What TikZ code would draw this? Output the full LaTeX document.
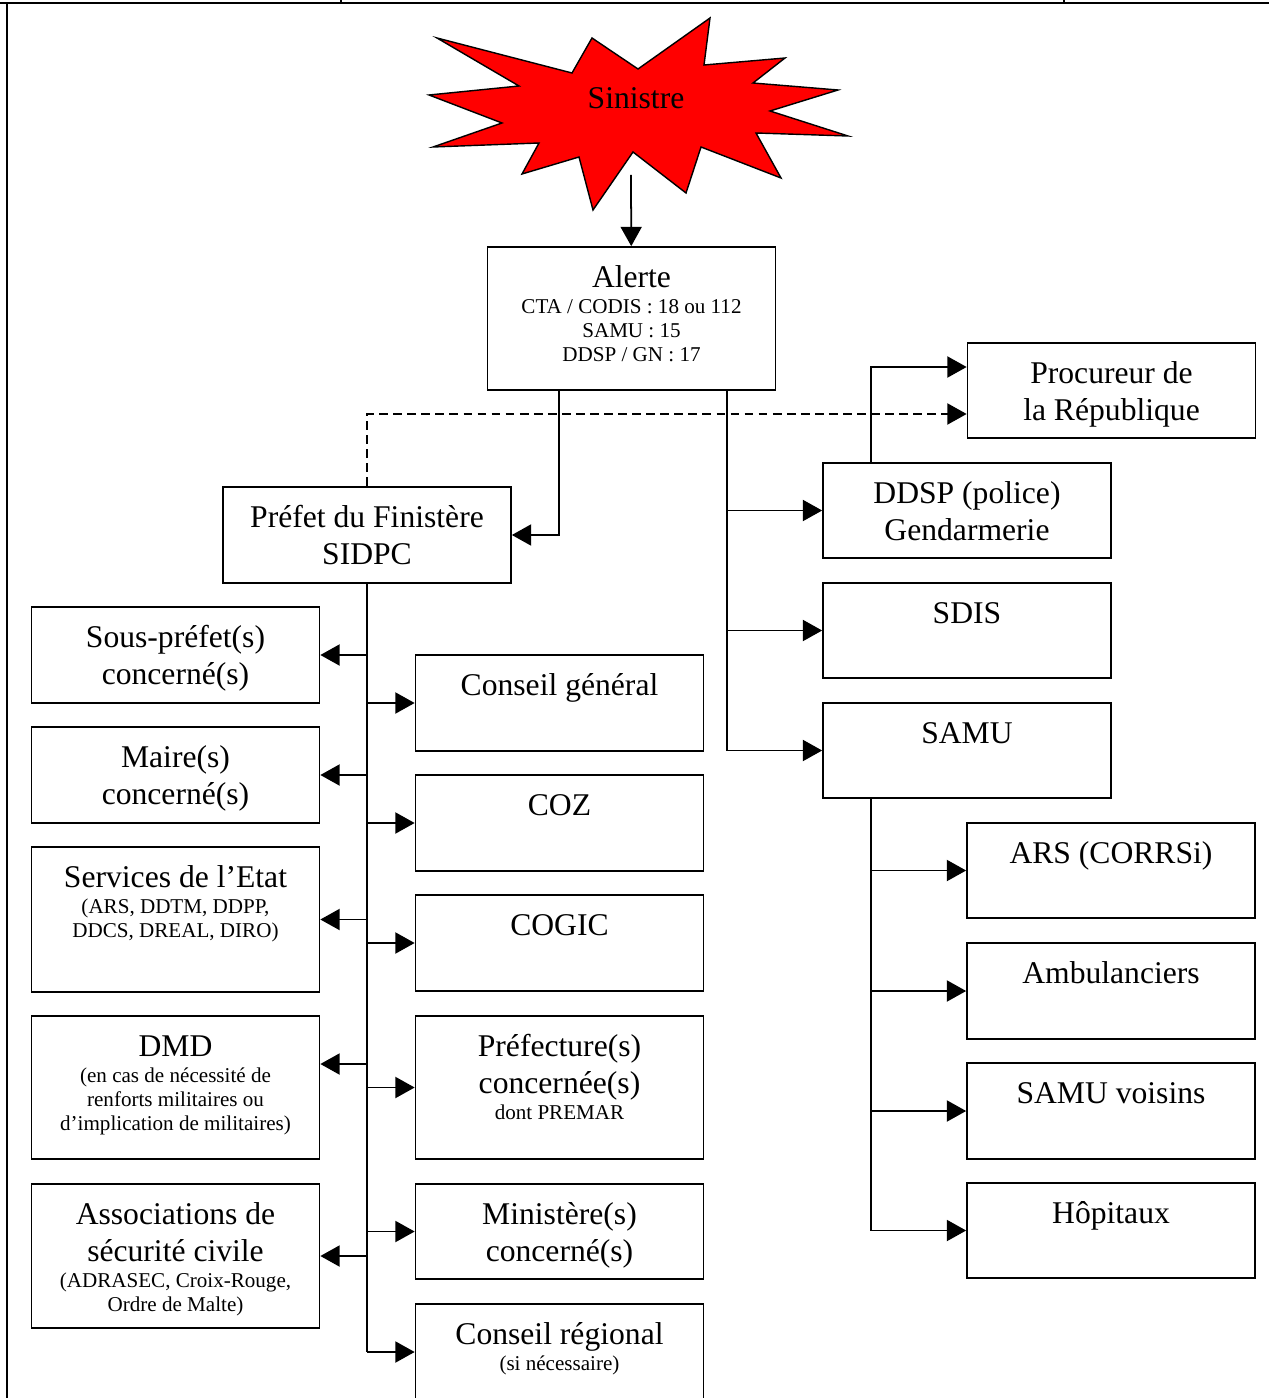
\documentclass[tikz,border=0pt]{standalone}
\usepackage{fontspec}
\setmainfont{Liberation Serif}
\usetikzlibrary{arrows.meta}

\newcommand{\boxtext}[2]{\parbox[c][#1][t]{5.76cm}{\centering\rule{0pt}{0.81cm}#2}}
\newcommand{\petit}[1]{\par\vspace{1.2pt}{\fontsize{12pt}{13.7pt}\selectfont #1\par}}

\tikzset{
  box/.style={draw, line width=1pt, inner sep=0pt, fill=white,
              font=\fontsize{18pt}{21pt}\selectfont},
  fleche/.style={line width=1pt, -{Triangle[length=11pt, width=12pt]}},
  trait/.style={line width=1pt}
}

\begin{document}
\begin{tikzpicture}[x=0.02cm, y=-0.02cm]
      \useasboundingbox (0,0) rectangle (1269,1398);
      \draw[line width=1.5pt] (0,3) -- (1269,3);
      \draw[trait] (341,0) -- (341,3) (1064,0) -- (1064,3);
      \draw[line width=1.5pt] (7,3) -- (7,1398);

      \filldraw[fill=red, line width=0.8pt, line join=miter]
        (437,38) -- (572,73) -- (592,38) -- (638,69) -- (710,18) -- (704,65)
        -- (785,58) -- (753,83) -- (838,90) -- (770,111) -- (848,136) -- (756,133)
        -- (781,178) -- (701,147) -- (686,193) -- (633,152) -- (593,210) -- (579,157)
        -- (522,174) -- (539,143) -- (433,147) -- (502,123) -- (429,95) -- (519,86) -- cycle;
      \node[font=\fontsize{18pt}{21pt}\selectfont] (sinistre) at (636,98) {Sinistre};
      \coordinate (sinpied) at (631,175);

      \node[box] (alerte) at (631.5,318.5) {\boxtext{2.86cm}{Alerte\petit{CTA / CODIS : 18 ou 112\\ SAMU : 15\\ DDSP / GN : 17}}};

      \node[box] (procureur) at (1111.5,390.5) {\boxtext{1.9cm}{Procureur de\\ la République}};
      \node[box] (ddsp) at (967,510.5) {\boxtext{1.9cm}{DDSP (police)\\ Gendarmerie}};
      \node[box] (sdis) at (967,630.5) {\boxtext{1.9cm}{SDIS}};
      \node[box] (samu) at (967,750.5) {\boxtext{1.9cm}{SAMU}};
      \node[box] (ars) at (1111,870.5) {\boxtext{1.9cm}{ARS (CORRSi)}};
      \node[box] (ambu) at (1111,991) {\boxtext{1.92cm}{Ambulanciers}};
      \node[box] (voisins) at (1111,1111) {\boxtext{1.92cm}{SAMU voisins}};
      \node[box] (hopitaux) at (1111,1230.5) {\boxtext{1.9cm}{Hôpitaux}};

      \node[box] (prefet) at (367,535) {\boxtext{1.92cm}{Préfet du Finistère\\ SIDPC}};

      \node[box] (sous) at (175.5,655) {\boxtext{1.92cm}{Sous-préfet(s)\\ concerné(s)}};
      \node[box] (maire) at (175.5,775) {\boxtext{1.92cm}{Maire(s)\\ concerné(s)}};
      \node[box] (serv) at (175.5,919.5) {\boxtext{2.9cm}{Services de l’Etat\petit{(ARS, DDTM, DDPP,\\ DDCS, DREAL, DIRO)}}};
      \node[box] (dmd) at (175.5,1087.5) {\boxtext{2.86cm}{DMD\petit{(en cas de nécessité de\\ renforts militaires ou\\ d’implication de militaires)}}};
      \node[box] (assoc) at (175.5,1256) {\boxtext{2.88cm}{Associations de\\ sécurité civile\petit{(ADRASEC, Croix-Rouge,\\ Ordre de Malte)}}};

      \node[box] (cg) at (559.5,703) {\boxtext{1.92cm}{Conseil général}};
      \node[box] (coz) at (559.5,823) {\boxtext{1.92cm}{COZ}};
      \node[box] (cogic) at (559.5,943) {\boxtext{1.92cm}{COGIC}};
      \node[box] (prefecture) at (559.5,1087.5) {\boxtext{2.86cm}{Préfecture(s)\\ concernée(s)\petit{dont PREMAR}}};
      \node[box] (ministere) at (559.5,1231.5) {\boxtext{1.9cm}{Ministère(s)\\ concerné(s)}};
      \node[box] (cr) at (559.5,1352) {\boxtext{1.92cm}{Conseil régional\petit{(si nécessaire)}}};

      \draw[fleche] (sinpied) -- (alerte);

      \coordinate (tgauche) at ([xshift=-1.45cm]alerte.south);
      \coordinate (tdroit) at ([xshift=1.91cm]alerte.south);
      \draw[fleche] (tgauche) |- (prefet);
      \draw[fleche] (tdroit) |- (samu);
      \foreach \n in {ddsp, sdis}
        \draw[fleche] (tdroit |- \n) -- (\n);

      \coordinate (dnord) at ([xshift=-1.92cm]ddsp.north);
      \draw[fleche] (dnord) |- ([yshift=0.47cm]procureur.west);
      \draw[fleche, dash pattern=on 5pt off 3pt] (prefet.north) |- ([yshift=-0.47cm]procureur.west);

      \draw[trait] (prefet.south) -- (prefet.south |- cr);
      \foreach \n in {sous, maire, serv, assoc}
        \draw[fleche] (prefet.south |- \n) -- (\n.east);
      \coordinate (dmdfl) at ([yshift=0.47cm]dmd.east);
      \draw[fleche] (prefet.south |- dmdfl) -- (dmdfl);
      \foreach \n in {cg, coz, cogic, prefecture, ministere, cr}
        \draw[fleche] (prefet.south |- \n) -- (\n.west);

      \coordinate (snord) at ([xshift=-1.92cm]samu.south);
      \draw[trait] (snord) -- (snord |- hopitaux);
      \foreach \n in {ars, ambu, voisins, hopitaux}
        \draw[fleche] (snord |- \n) -- (\n.west);
    \end{tikzpicture}
\end{document}
